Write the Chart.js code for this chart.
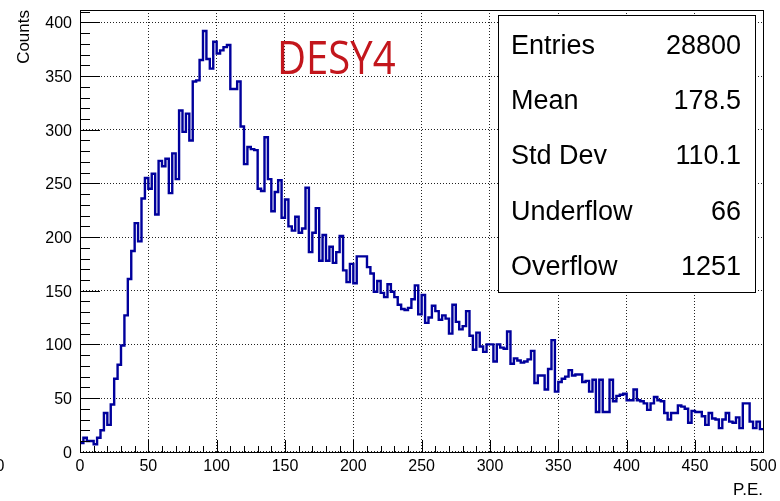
<!DOCTYPE html>
<html><head><meta charset="utf-8">
<script src="https://cdn.jsdelivr.net/npm/chart.js@4/dist/chart.umd.min.js"></script>
<style>html,body{margin:0;padding:0;background:#fff;}canvas{display:block;}</style>
</head><body>
<canvas id="c" width="780" height="501"></canvas>
<script>
// Histogram binning (P.E.)
const xMin = 0, xMax = 500, nBins = 200;
// Bin contents (200 bins of width 2.5)
const counts = [
  8,13,10,10,7,13,20,36,25,44, 68,81,99,127,161,187,213,196,236,255,
  245,259,221,271,266,273,241,278,254,318, 298,315,290,345,346,365,392,366,357,382,
  371,374,377,379,338,338,345,303,268,284, 282,281,245,243,293,254,224,242,253,218,
  235,210,206,219,204,208,246,186,204,227, 178,202,178,191,176,186,201,169,158,175,
  157,182,182,182,172,166,149,159,148,144, 156,149,144,137,133,132,134,142,155,128,
  146,120,125,136,131,123,127,124,110,137, 121,114,117,131,108,95,111,98,93,100,
  100,84,100,97,96,112,82,87,85,83, 84,86,94,64,71,71,58,77,104,56,
  65,68,70,76,71,72,72,65,66,56, 67,37,67,37,37,67,47,52,53,54,
  48,48,58,48,47,45,39,45,51,48, 47,36,30,36,36,43,42,40,27,38,
  37,37,33,25,36,31,30,22,30,36, 28,27,32,22,45,45,28,22,28,21
];
const xTicks = [0,50,100,150,200,250,300,350,400,450,500];
const yTicks = [0,50,100,150,200,250,300,350,400];
const yMax = 411.6;
const statLabels = ['Entries','Mean','Std Dev','Underflow','Overflow'];
const statValues = ['28800','178.5','110.1','66','1251'];
const histTitle = 'DESY4';
const xTitle = 'P.E.';
const yTitle = 'Counts';

const binW = (xMax - xMin) / nBins;
const points = counts.map((v, i) => ({x: xMin + i * binW, y: v}));
points.push({x: xMax, y: counts[counts.length - 1]});

const FAMILY = '"Liberation Sans", Arial, Helvetica, sans-serif';

const rootPlugin = {
  id: 'rootStyle',
  afterDatasetsDraw(chart) {
    const {ctx, chartArea: a, scales: {x, y}} = chart;
    ctx.save();
    // stats box
    ctx.fillStyle = '#fff';
    ctx.fillRect(498, 15, 257, 277);
    ctx.strokeStyle = '#000';
    ctx.lineWidth = 1;
    ctx.strokeRect(498.5, 15.5, 257, 277);
    ctx.fillStyle = '#000';
    ctx.font = '27px ' + FAMILY;
    ctx.textBaseline = 'alphabetic';
    statLabels.forEach((l, i) => {
      const by = 54 + 55.2 * i;
      ctx.textAlign = 'left';
      ctx.fillText(l, 511, by);
      ctx.textAlign = 'right';
      ctx.fillText(statValues[i], 741, by);
    });
    // frame
    const L = Math.round(a.left), R = Math.round(a.right), T = Math.round(a.top), B = Math.round(a.bottom);
    ctx.strokeStyle = '#000';
    ctx.strokeRect(L + 0.5, T + 0.5, R - L, B - T);
    // inward ticks
    ctx.beginPath();
    for (let v = 0; v <= yMax; v += 10) {
      const py = Math.round(y.getPixelForValue(v)) + 0.5;
      const len = (v % 50 === 0) ? 20 : 10;
      ctx.moveTo(L, py); ctx.lineTo(L + len, py);
    }
    for (let v = xMin; v <= xMax; v += 10) {
      const px = Math.round(x.getPixelForValue(v)) + 0.5;
      const len = (v % 50 === 0) ? 12 : 6;
      ctx.moveTo(px, B); ctx.lineTo(px, B - len);
    }
    ctx.stroke();
    // tick labels from the library scales
    ctx.fillStyle = '#000';
    ctx.font = '16px ' + FAMILY;
    ctx.textBaseline = 'alphabetic';
    ctx.textAlign = 'right';
    y.ticks.forEach(t => {
      ctx.fillText(String(t.value), 72, y.getPixelForValue(t.value) + 6);
    });
    ctx.textAlign = 'center';
    x.ticks.forEach(t => {
      ctx.fillText(String(t.value), x.getPixelForValue(t.value), 471);
    });
    // stray clipped label at left edge
    ctx.textAlign = 'right';
    ctx.fillText('0', 4.5, 471);
    // axis titles
    ctx.font = '17px ' + FAMILY;
    ctx.textAlign = 'right';
    ctx.fillText(xTitle, R, 495);
    ctx.save();
    ctx.translate(29, 10);
    ctx.rotate(-Math.PI / 2);
    ctx.fillText(yTitle, 0, 0);
    ctx.restore();
    // red title
    ctx.save();
    ctx.fillStyle = '#c3161c';
    ctx.font = '45px "Open Sans", "Noto Sans", sans-serif';
    ctx.textAlign = 'left';
    ctx.translate(277, 74);
    ctx.scale(0.89, 1);
    ctx.fillText(histTitle, 0, 0);
    ctx.restore();
    ctx.restore();
  }
};

new Chart(document.getElementById('c'), {
  type: 'line',
  data: {
    datasets: [{
      data: points,
      stepped: 'before',
      borderColor: '#00009c',
      borderWidth: 2.4,
      pointRadius: 0,
      fill: false,
      tension: 0
    }]
  },
  options: {
    responsive: false,
    animation: false,
    devicePixelRatio: 1,
    layout: {padding: {left: 0, top: 10, right: 16.7, bottom: 0}},
    plugins: {legend: {display: false}, tooltip: {enabled: false}},
    scales: {
      x: {
        type: 'linear', min: xMin, max: xMax,
        afterFit(s) { s.height = 49.3; },
        afterBuildTicks(s) { s.ticks = xTicks.map(v => ({value: v})); },
        grid: {color: '#222', lineWidth: 1, drawTicks: false},
        border: {display: false, dash: [1, 2]},
        ticks: {display: false, autoSkip: false, maxRotation: 0}
      },
      y: {
        type: 'linear', min: 0, max: yMax,
        afterFit(s) { s.width = 80; },
        afterBuildTicks(s) { s.ticks = yTicks.map(v => ({value: v})); },
        grid: {color: '#222', lineWidth: 1, drawTicks: false},
        border: {display: false, dash: [1, 2]},
        ticks: {display: false}
      }
    }
  },
  plugins: [rootPlugin]
});
</script>
</body></html>
